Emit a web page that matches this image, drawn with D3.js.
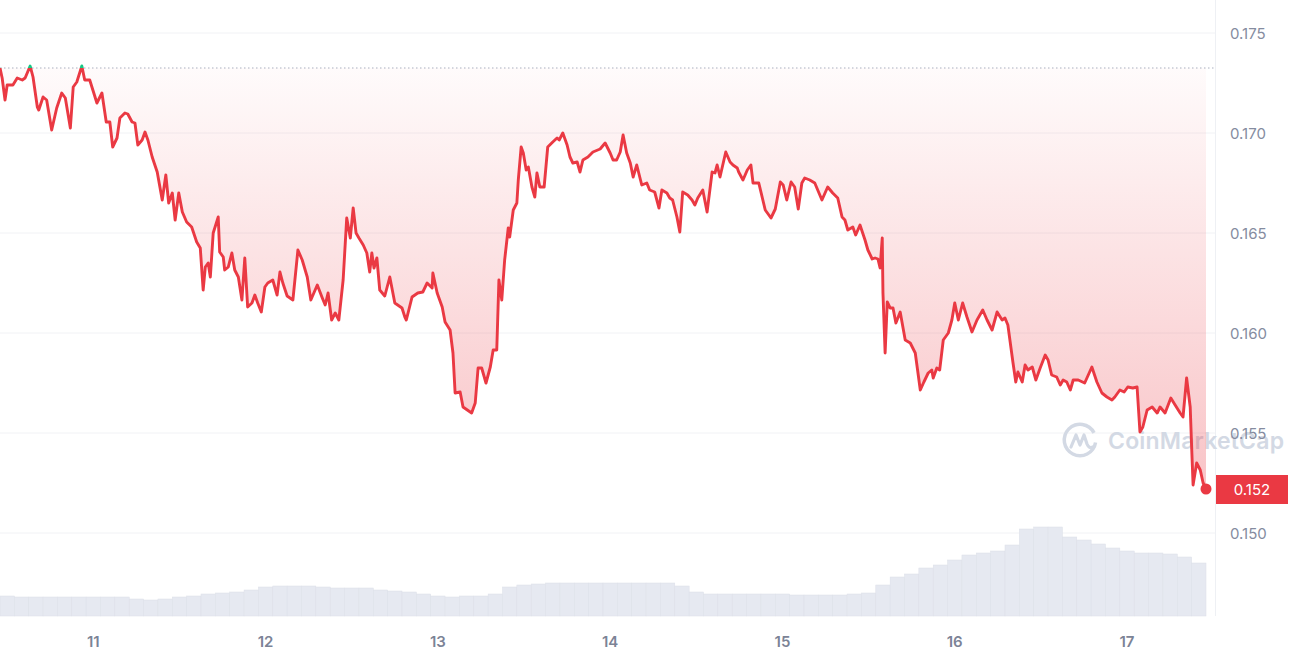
<!DOCTYPE html>
<html><head><meta charset="utf-8">
<script src="https://cdn.jsdelivr.net/npm/d3@7"></script>
<style>html,body{margin:0;padding:0;background:#fff;}svg{display:block;font-family:Inter,"Noto Sans",sans-serif;}</style>
</head><body><svg id="c" width="1292" height="658"></svg>
<script>
// ---- data ----
const startTime = new Date(2024, 2, 10, 11, 0);   // first sample
const spanHours = 168;
const hours = [0,0.3,0.7,1.0,1.8,2.4,3.1,3.5,4.2,4.6,5.2,5.4,6.0,6.5,7.2,7.9,8.6,9.1,9.8,10.2,10.7,11.4,11.8,12.5,13.5,14.2,14.8,15.3,15.7,16.3,16.7,17.4,17.8,18.4,18.8,19.2,19.8,20.2,20.6,21.2,21.9,22.6,23.1,23.5,24.0,24.4,24.9,25.4,26.0,26.7,27.4,27.9,28.3,28.6,29.0,29.3,29.7,30.4,30.6,31.1,31.3,31.8,32.3,32.7,33.2,33.7,34.1,34.5,35.1,35.5,35.9,36.4,36.9,37.3,38.0,38.6,39.0,39.4,40.0,40.8,41.5,42.1,42.8,43.3,44.2,44.9,45.3,45.7,46.2,46.7,47.2,47.8,48.3,48.8,49.2,49.6,50.0,50.6,51.1,51.5,51.8,52.1,52.5,52.9,53.6,54.3,55.0,55.4,56.0,56.4,56.6,57.4,58.2,58.9,59.5,60.2,60.3,60.9,61.6,62.0,62.7,63.1,63.4,64.1,64.5,65.1,65.7,66.2,66.6,67.1,67.7,68.3,68.7,69.2,69.5,69.9,70.3,70.8,71.0,71.5,72.0,72.2,72.6,72.9,73.3,73.6,74.1,74.5,74.8,75.2,75.8,76.3,77.0,77.6,77.9,78.4,79.0,79.4,79.8,80.4,80.8,81.2,81.9,82.6,83.6,84.3,85.0,85.4,85.9,86.4,86.8,87.3,87.8,88.2,88.7,89.4,90.1,90.5,91.2,91.8,92.2,92.9,93.3,93.7,94.3,94.7,95.1,95.8,96.4,96.8,97.2,97.9,98.5,99.2,99.6,99.9,100.3,101.1,101.7,102.1,102.7,102.9,103.5,104.1,104.6,104.9,105.7,106.6,107.4,108.0,108.7,109.1,109.6,110.2,110.7,111.2,111.7,112.1,112.8,113.5,114.5,115.3,116.0,116.7,117.3,117.7,118.1,118.8,119.2,119.8,120.5,120.9,121.5,121.9,122.3,122.6,122.9,123.0,123.3,123.6,124.0,124.4,124.8,125.4,126.1,126.8,127.5,128.2,128.7,129.3,129.8,130.0,130.5,130.9,131.4,132.1,132.6,133.0,133.5,134.1,134.7,135.4,136.1,136.9,137.5,138.2,138.9,139.6,140.0,140.4,141.1,141.5,141.8,142.4,142.8,143.2,143.8,144.3,144.9,145.6,146.0,146.5,147.2,147.7,148.1,148.6,149.1,149.5,150.2,151.1,152.1,152.8,153.5,154.2,154.9,155.3,156.0,156.6,157.1,157.8,158.4,158.8,159.2,159.8,160.5,161.2,161.6,162.3,163.1,163.7,164.4,164.8,165.3,165.8,166.0,166.2,166.7,167.2,167.6,168.0];
const prices = [0.17325,0.17275,0.17165,0.1724,0.1724,0.17275,0.17265,0.17275,0.17335,0.1728,0.1713,0.17115,0.1718,0.17165,0.17015,0.17125,0.172,0.17175,0.17025,0.1723,0.17255,0.17335,0.17265,0.17265,0.1715,0.172,0.17055,0.17055,0.1693,0.16975,0.17075,0.171,0.17095,0.17055,0.1705,0.1694,0.16965,0.17005,0.16965,0.1688,0.16805,0.16665,0.1679,0.1665,0.167,0.16565,0.167,0.16605,0.16555,0.1653,0.16455,0.16425,0.16215,0.1633,0.1635,0.1628,0.165,0.1658,0.16405,0.1638,0.16315,0.1633,0.164,0.16315,0.1628,0.16165,0.16375,0.1613,0.1615,0.1619,0.1615,0.16105,0.1623,0.1625,0.16265,0.1619,0.16305,0.1625,0.16185,0.16165,0.16415,0.16365,0.1628,0.16165,0.1624,0.16175,0.1614,0.162,0.16065,0.161,0.16065,0.16265,0.16575,0.16475,0.16625,0.165,0.16475,0.1644,0.164,0.16305,0.164,0.16325,0.16375,0.16215,0.16185,0.1628,0.1615,0.1614,0.16125,0.1608,0.16065,0.1618,0.162,0.16205,0.1625,0.16225,0.163,0.162,0.1613,0.16055,0.16015,0.159,0.157,0.15705,0.1563,0.15615,0.156,0.1565,0.15825,0.15825,0.1575,0.1583,0.15915,0.15915,0.16265,0.16165,0.16365,0.16525,0.1648,0.16615,0.1665,0.16765,0.1693,0.169,0.16815,0.1683,0.1673,0.1668,0.168,0.1673,0.1673,0.1693,0.16955,0.16975,0.16965,0.17,0.1694,0.1688,0.1685,0.16855,0.16805,0.16865,0.1688,0.16905,0.1692,0.1695,0.169,0.16865,0.16865,0.16905,0.1699,0.169,0.1685,0.1678,0.1684,0.1674,0.1675,0.16715,0.16705,0.16625,0.16715,0.167,0.16675,0.16665,0.1658,0.16505,0.16705,0.1669,0.16665,0.1664,0.16675,0.16715,0.16605,0.16805,0.168,0.1684,0.1678,0.16905,0.16855,0.1684,0.16825,0.16805,0.16765,0.16815,0.1684,0.1675,0.1675,0.16615,0.16575,0.1662,0.16755,0.1674,0.16665,0.16755,0.1673,0.1662,0.1675,0.16775,0.16765,0.1675,0.16665,0.1673,0.167,0.16675,0.1658,0.16565,0.16515,0.1653,0.1649,0.1654,0.16465,0.16415,0.1637,0.16375,0.1637,0.16325,0.16475,0.162,0.159,0.16155,0.16125,0.16125,0.1605,0.16105,0.15965,0.1595,0.159,0.15715,0.15755,0.158,0.15815,0.15775,0.15825,0.15815,0.15965,0.16,0.16065,0.1615,0.16065,0.1615,0.1608,0.16005,0.16065,0.16115,0.16065,0.16015,0.16105,0.16065,0.16075,0.1604,0.15855,0.15755,0.15805,0.15755,0.1584,0.15815,0.1583,0.15765,0.15825,0.1589,0.15865,0.1579,0.1578,0.1574,0.15765,0.15755,0.15715,0.15765,0.15765,0.1575,0.1583,0.15755,0.157,0.1568,0.15665,0.1568,0.15715,0.15705,0.1573,0.15725,0.1573,0.15505,0.1553,0.15615,0.1563,0.156,0.1563,0.156,0.15675,0.1564,0.156,0.1558,0.15775,0.1563,0.1543,0.1524,0.1535,0.15315,0.1525,0.1522];
const volumeStepHours = 2;
const volumes = [200,190,190,190,190,190,190,190,190,170,160,170,190,200,220,230,240,260,290,300,300,300,290,280,280,280,260,250,240,220,200,190,200,200,220,290,310,320,330,330,330,330,330,330,330,330,330,300,240,220,220,220,220,220,220,210,210,210,210,220,230,310,390,420,480,510,560,610,630,650,710,870,890,890,790,760,720,680,650,630,630,620,590,530];
const priceTicks = [0.150, 0.155, 0.160, 0.165, 0.170, 0.175];
const dayTicks = [11, 12, 13, 14, 15, 16, 17];
const watermark = "CoinMarketCap";

// ---- setup ----
const W = 1292, H = 658;
const RED = "#ea3943", GREEN = "#16c784";
const svg = d3.select("#c");
const data = hours.map((h, i) => ({t: new Date(+startTime + h * 3600e3), p: prices[i]}));
const endTime = new Date(+startTime + spanHours * 3600e3);

const x = d3.scaleTime().domain([startTime, endTime]).range([0, 1206]);
const y = d3.scaleLinear().domain([0.150, 0.175]).range([533, 33]);
const yv = d3.scaleLinear().domain([0, 1000]).range([616, 516]);
const plotRight = 1215;
const baseP = prices[0];
const baseY = y(baseP);

const defs = svg.append("defs");
const gr = defs.append("linearGradient").attr("id", "gRed").attr("gradientUnits", "userSpaceOnUse")
  .attr("x1", 0).attr("x2", 0).attr("y1", baseY).attr("y2", y(d3.min(prices)));
gr.append("stop").attr("offset", 0).attr("stop-color", RED).attr("stop-opacity", 0.02);
gr.append("stop").attr("offset", 1).attr("stop-color", RED).attr("stop-opacity", 0.3);
defs.append("clipPath").attr("id", "below").append("rect").attr("x", 0).attr("y", baseY).attr("width", plotRight).attr("height", H);
defs.append("clipPath").attr("id", "above").append("rect").attr("x", 0).attr("y", 0).attr("width", plotRight).attr("height", baseY);

// grid
svg.append("g").selectAll("line").data(priceTicks).join("line")
  .attr("x1", 0).attr("x2", plotRight).attr("y1", d => y(d)).attr("y2", d => y(d))
  .attr("stroke", "#f1f2f5").attr("stroke-width", 1);
svg.append("line").attr("x1", plotRight + 0.5).attr("x2", plotRight + 0.5).attr("y1", 0).attr("y2", 616)
  .attr("stroke", "#eef0f4");

// volume
svg.append("g").selectAll("rect").data(volumes).join("rect")
  .attr("x", (d, i) => x(new Date(+startTime + i * volumeStepHours * 3600e3)))
  .attr("width", (d, i) => x(new Date(+startTime + (i + 1) * volumeStepHours * 3600e3)) - x(new Date(+startTime + i * volumeStepHours * 3600e3)))
  .attr("y", d => yv(d)).attr("height", d => yv(0) - yv(d))
  .attr("fill", "#e6e9f1").attr("stroke", "#dcdfe8").attr("stroke-width", 0.5);

// watermark
const wm = svg.append("g").attr("transform", "translate(1080,440)").attr("fill", "none").attr("stroke", "#d3d9e4");
wm.append("path").attr("d", d3.arc()({innerRadius: 14, outerRadius: 17.5, startAngle: 0.55 * Math.PI, endAngle: 2.35 * Math.PI}))
  .attr("fill", "#d3d9e4").attr("stroke", "none");
wm.append("path").attr("d", "M-9,7 L-4,-5 L0,5 L4,-5 L7,4 Q9,9 13,7").attr("stroke-width", 3.2).attr("stroke-linejoin", "round").attr("stroke-linecap", "round");
svg.append("text").attr("x", 1108).attr("y", 441).attr("dominant-baseline", "central")
  .attr("font-size", 23).attr("font-weight", 600).attr("fill", "#d3d9e4").attr("textLength", 176).text(watermark);

// area + lines
const area = d3.area().x(d => x(d.t)).y0(baseY).y1(d => y(d.p));
const line = d3.line().x(d => x(d.t)).y(d => y(d.p));
svg.append("path").datum(data).attr("d", area).attr("fill", "url(#gRed)").attr("clip-path", "url(#below)");
svg.append("path").datum(data).attr("d", area).attr("fill", GREEN).attr("fill-opacity", 0.12).attr("clip-path", "url(#above)");
svg.append("line").attr("x1", 0).attr("x2", plotRight).attr("y1", baseY).attr("y2", baseY)
  .attr("stroke", "#a9afbe").attr("stroke-width", 1).attr("stroke-dasharray", "1.5,2.5");
svg.append("path").datum(data).attr("d", line).attr("fill", "none").attr("stroke", RED).attr("stroke-width", 2.9)
  .attr("stroke-linejoin", "round").attr("clip-path", "url(#below)");
svg.append("path").datum(data).attr("d", line).attr("fill", "none").attr("stroke", GREEN).attr("stroke-width", 2.9)
  .attr("stroke-linejoin", "round").attr("clip-path", "url(#above)");

// end dot
const last = data[data.length - 1];
svg.append("circle").attr("cx", x(last.t)).attr("cy", y(last.p)).attr("r", 5.5).attr("fill", RED);

// y axis labels
svg.append("g").selectAll("text").data(priceTicks).join("text")
  .attr("x", 1230).attr("y", d => y(d)).attr("dominant-baseline", "central")
  .attr("font-size", 15).attr("fill", "#858ca0").text(d => d3.format(".3f")(d));

// price tag
const tagY = y(last.p);
svg.append("rect").attr("x", 1216).attr("y", tagY - 14).attr("width", 72).attr("height", 29).attr("fill", RED);
svg.append("text").attr("x", 1252).attr("y", tagY + 0.5).attr("text-anchor", "middle").attr("dominant-baseline", "central")
  .attr("font-size", 15).attr("fill", "#fff").text(d3.format(".3f")(last.p));

// x axis labels
svg.append("g").selectAll("text").data(dayTicks).join("text")
  .attr("x", d => x(new Date(2024, 2, d))).attr("y", 641).attr("text-anchor", "middle").attr("dominant-baseline", "central")
  .attr("font-size", 15).attr("font-weight", 600).attr("fill", "#7c8396").text(d => d);
</script></body></html>
